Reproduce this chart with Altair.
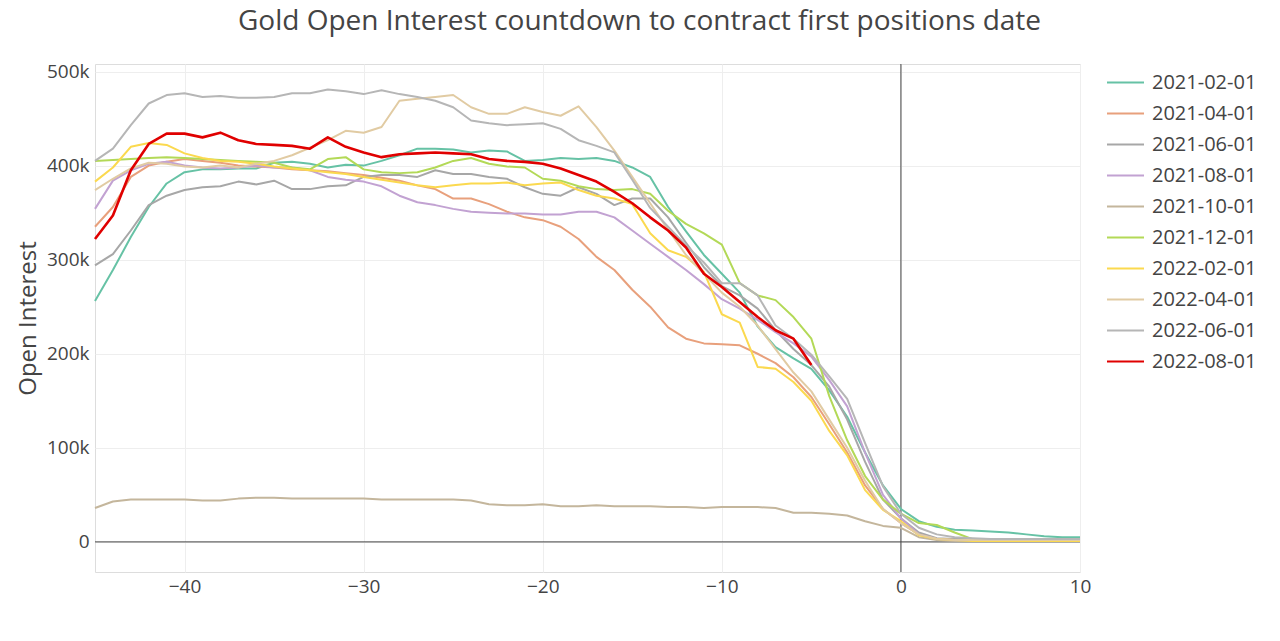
import altair as alt
import pandas as pd

days = list(range(-45, 11))

contracts = ["2021-02-01", "2021-04-01", "2021-06-01", "2021-08-01", "2021-10-01",
             "2021-12-01", "2022-02-01", "2022-04-01", "2022-06-01", "2022-08-01"]
colors = ["#66c2a5", "#e8a07c", "#a7a7a7", "#c2a2d2", "#c4b69c",
          "#b3d957", "#fbd94f", "#e1cba3", "#b6b6b6", "#e00000"]

# open interest in thousands, day -45 onwards
oi_2021_02 = [256, 289, 324, 356, 381, 393, 396, 396, 397, 397, 403,
              404, 402, 398, 401, 400, 405, 411, 418, 418, 417,
              414, 416, 415, 405, 406, 408, 407, 408, 405, 398,
              388, 356, 330, 305, 285, 265, 229, 207, 195, 184,
              161, 133, 95, 60, 35, 22, 16, 13, 12, 11, 10, 8, 6, 5, 5]
oi_2021_04 = [335, 356, 388, 400, 404, 407, 405, 403, 400, 399, 398,
              396, 395, 394, 392, 390, 387, 384, 379, 375, 365,
              365, 359, 351, 345, 342, 335, 322, 303, 289, 268,
              250, 228, 216, 211, 210, 209, 200, 190, 175, 154,
              125, 95, 60, 35, 20, 8, 3, 2, 2, 2, 2, 2, 3, 3, 3]
oi_2021_06 = [294, 306, 331, 358, 368, 374, 377, 378, 383, 380, 384,
              375, 375, 378, 379, 388, 390, 390, 388, 395, 391,
              391, 388, 386, 377, 370, 368, 377, 370, 358, 365,
              365, 345, 318, 292, 272, 262, 248, 225, 205, 188,
              165, 130, 85, 45, 25, 10, 4, 3, 3, 3, 3, 3, 3, 3, 3]
oi_2021_08 = [354, 384, 395, 402, 404, 400, 398, 397, 398, 400, 398,
              398, 395, 388, 385, 383, 378, 368, 361, 358, 354,
              351, 350, 349, 349, 348, 348, 351, 351, 345, 331,
              317, 303, 289, 274, 258, 248, 236, 223, 211, 197,
              172, 144, 95, 50, 25, 8, 3, 2, 2, 2, 2, 2, 2, 2, 2]
oi_2021_10 = [36, 43, 45, 45, 45, 45, 44, 44, 46, 47, 47,
              46, 46, 46, 46, 46, 45, 45, 45, 45, 45,
              44, 40, 39, 39, 40, 38, 38, 39, 38, 38,
              38, 37, 37, 36, 37, 37, 37, 36, 31, 31,
              30, 28, 22, 17, 15, 5, 2, 1, 1, 1, 1, 1, 1, 1, 1]
oi_2021_12 = [405, 406, 407, 408, 409, 408, 407, 406, 405, 404, 403,
              398, 396, 407, 409, 396, 393, 392, 393, 398, 405,
              408, 402, 399, 398, 386, 384, 378, 375, 374, 375,
              370, 352, 338, 328, 316, 275, 262, 257, 239, 216,
              155, 108, 70, 45, 30, 20, 18, 10, 3, 2, 2, 2, 2, 2, 2]
oi_2022_02 = [383, 398, 420, 424, 422, 413, 408, 405, 404, 402, 399,
              397, 395, 393, 391, 388, 385, 382, 379, 377, 379,
              381, 381, 382, 379, 381, 382, 374, 368, 365, 359,
              328, 310, 303, 287, 242, 233, 186, 184, 170, 150,
              118, 92, 55, 34, 22, 7, 3, 2, 1, 1, 1, 1, 1, 1, 1]
oi_2022_04 = [374, 386, 397, 403, 402, 399, 398, 400, 398, 402, 405,
              411, 419, 427, 437, 435, 441, 469, 471, 473, 475,
              462, 455, 455, 462, 457, 453, 463, 441, 416, 388,
              360, 332, 305, 285, 265, 250, 230, 205, 180, 160,
              130, 100, 65, 35, 20, 8, 3, 2, 2, 2, 2, 2, 2, 2, 2]
oi_2022_06 = [405, 418, 443, 466, 475, 477, 473, 474, 472, 472, 473,
              477, 477, 481, 479, 476, 480, 476, 473, 469, 462,
              448, 445, 443, 444, 445, 439, 427, 421, 414, 385,
              355, 335, 315, 297, 275, 275, 262, 230, 216, 199,
              176, 152, 105, 59, 30, 15, 8, 5, 4, 3, 3, 3, 3, 3, 3]
oi_2022_08 = [322, 347, 395, 423, 434, 434, 430, 435, 427, 423, 422,
              421, 418, 430, 420, 414, 409, 412, 413,
              414, 413, 412, 407, 405, 404, 402, 397, 390, 383,
              372, 360, 345, 331, 313, 285, 271,
              255, 239, 225, 216, 188]

all_series = [oi_2021_02, oi_2021_04, oi_2021_06, oi_2021_08, oi_2021_10,
              oi_2021_12, oi_2022_02, oi_2022_04, oi_2022_06, oi_2022_08]

rows = []
for name, vals in zip(contracts, all_series):
    for d, v in zip(days, vals):
        rows.append({"day": d, "oi": v * 1000, "contract": name})
df = pd.DataFrame(rows)

x_scale = alt.Scale(domain=[-45, 10], nice=False, zero=False)
y_scale = alt.Scale(domain=[-32000, 508000], nice=False, zero=False)

x_axis = alt.Axis(values=[-40, -30, -20, -10, 0, 10], title=None, format="d",
                  labelFontSize=19, labelColor="#444", labelFont="Open Sans",
                  labelFlush=False, labelOverlap=False,
                  grid=True, gridColor="#eeeeee", gridWidth=1,
                  domain=False, ticks=False, labelPadding=5)
y_axis = alt.Axis(values=[0, 100000, 200000, 300000, 400000, 500000],
                  labelExpr="datum.value == 0 ? '0' : format(datum.value, '~s')",
                  title="Open Interest", titleFontSize=24, titleFont="Open Sans",
                  titleColor="#444", titleFontWeight="normal",
                  titleX=-67, titleY=254, titleAngle=-90, titleAlign="center",
                  titleBaseline="middle",
                  labelFontSize=19, labelColor="#444", labelFont="Open Sans",
                  labelFlush=False, labelOverlap=False,
                  grid=True, gridColor="#eeeeee", gridWidth=1,
                  domain=False, ticks=False, labelPadding=6)

zero = pd.DataFrame({"v": [0]})
hrule = alt.Chart(zero).mark_rule(color="#444", strokeWidth=1).encode(
    y=alt.Y("v:Q", scale=y_scale, axis=y_axis))
vrule = alt.Chart(zero).mark_rule(color="#444", strokeWidth=1).encode(
    x=alt.X("v:Q", scale=x_scale, axis=x_axis))

lines = alt.Chart(df).mark_line(strokeJoin="round").encode(
    x=alt.X("day:Q", scale=x_scale, axis=x_axis),
    y=alt.Y("oi:Q", scale=y_scale, axis=y_axis),
    color=alt.Color("contract:N", sort=contracts,
                    scale=alt.Scale(domain=contracts, range=colors),
                    legend=alt.Legend(title=None, orient="none", legendX=1011, legendY=-1,
                                      labelFontSize=20, labelColor="#444", labelFont="Open Sans",
                                      symbolType="stroke", symbolSize=1369,
                                      symbolStrokeWidth=2, labelOffset=7,
                                      rowPadding=1, padding=0)),
    strokeWidth=alt.condition(alt.datum.contract == "2022-08-01", alt.value(2.6), alt.value(2)),
)

chart = alt.layer(hrule, vrule, lines).properties(
    width=985, height=508,
    title=alt.TitleParams("Gold Open Interest countdown to contract first positions date",
                          fontSize=28, font="Open Sans", fontWeight="normal", color="#444",
                          anchor="middle", dx=52, offset=27),
    autosize=alt.AutoSizeParams(type="none"),
    padding={"left": 95, "top": 64, "right": 200, "bottom": 69},
).configure_view(stroke=None).configure(font="Open Sans")

chart.save("out.html", embed_options={"renderer": "svg", "actions": False})
